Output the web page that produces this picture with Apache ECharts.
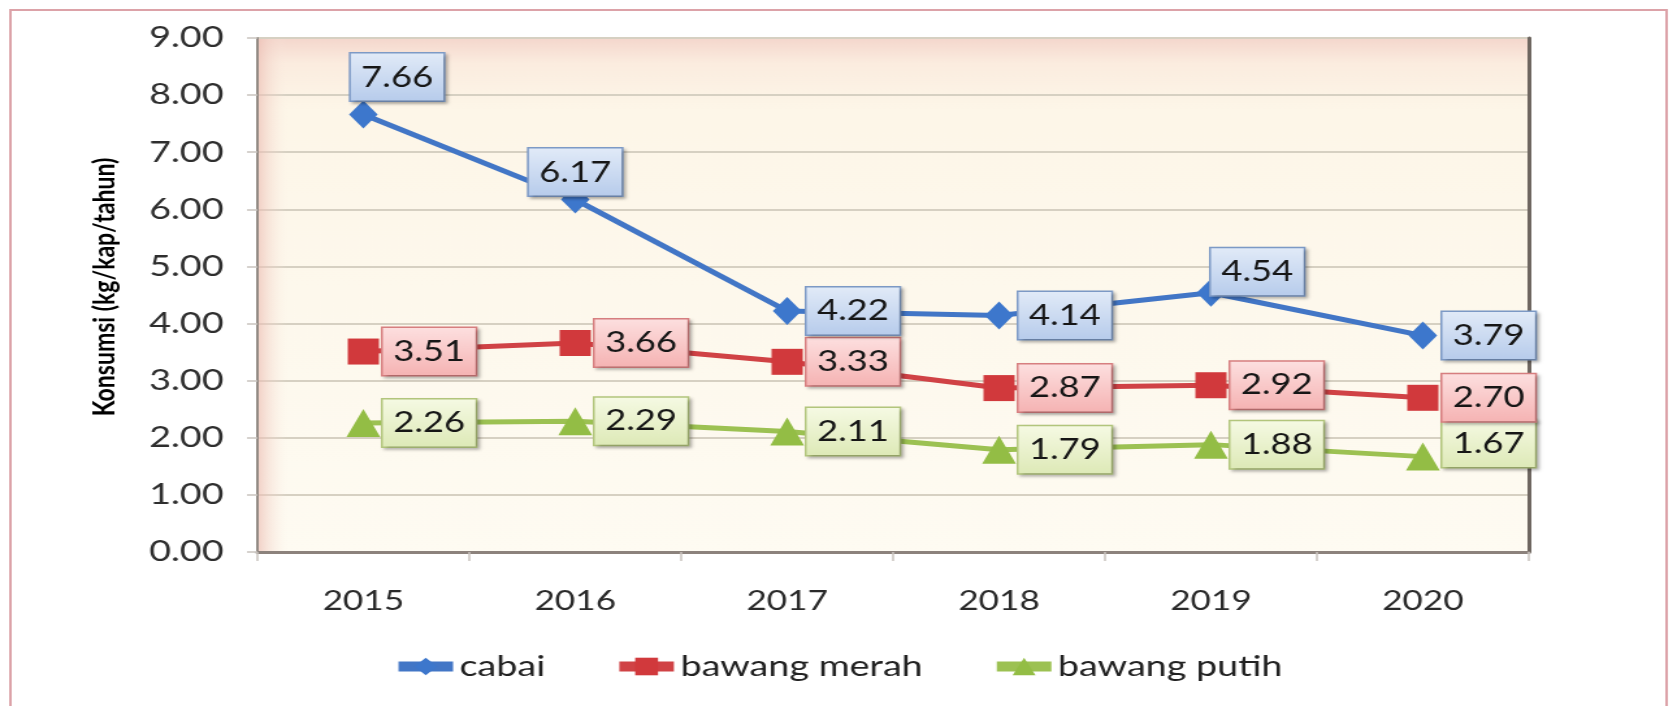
<!DOCTYPE html>
<html><head><meta charset="utf-8">
<script src="https://cdn.jsdelivr.net/npm/echarts@6/dist/echarts.min.js"></script>
<style>
html,body{margin:0;padding:0;background:#fff;overflow:hidden;}
#wrap{width:1674px;height:706px;overflow:hidden;position:relative;background:#fff;}
#chart{width:1288px;height:706px;transform:scaleX(1.3);transform-origin:0 0;}
</style></head><body>
<div id="wrap"><div id="chart"></div></div>
<script>
const years = ['2015', '2016', '2017', '2018', '2019', '2020'];
const cabai = [7.66, 6.17, 4.22, 4.14, 4.54, 3.79];
const bawangMerah = [3.51, 3.66, 3.33, 2.87, 2.92, 2.70];
const bawangPutih = [2.26, 2.29, 2.11, 1.79, 1.88, 1.67];
const seriesNames = ['cabai', 'bawang merah', 'bawang putih'];
const yAxisTitle = 'Konsumsi (kg/kap/tahun)';

// per-point label placement tweaks (kept apart from the data)
const labelTweaks = [
  {0: {position: 'top', distance: 0, offset: [26, 0]}, 1: {position: 'top', distance: -10}, 4: {offset: [-15, -21]}},
  {},
  {5: {offset: [0, -13]}}
];

const chart = echarts.init(document.getElementById('chart'), null, {renderer: 'canvas'});
const G = echarts.graphic;

const GRID = {left: 198, right: 112, top: 38, bottom: 154};
const CW = 1288, CH = 706;

function boxLabel(top, bottom, border, dist) {
  return {
    show: true, position: 'right', distance: dist,
    formatter: p => Number(p.value).toFixed(2),
    fontFamily: 'Lato', fontSize: 28, color: '#161616', lineHeight: 34,
    padding: [7, 8, 6, 8],
    backgroundColor: new G.LinearGradient(0, 0, 0, 1, [{offset: 0, color: top}, {offset: 1, color: bottom}]),
    borderColor: border, borderWidth: 1.5,
    shadowColor: 'rgba(0,0,0,0.25)', shadowBlur: 3, shadowOffsetX: 2, shadowOffsetY: 2
  };
}
function withTweaks(arr, tw) {
  return arr.map((v, i) => tw[i] ? {value: v, label: tw[i]} : v);
}

const option = {
  animation: false,
  backgroundColor: '#fff',
  graphic: [{
    type: 'rect', shape: {x: 8, y: 10, width: 1274, height: 720},
    style: {fill: 'none', stroke: '#dca2a8', lineWidth: 2}, z: -10
  }, {
    // soft pink shading along the left edge of the plot area
    type: 'rect', z: 1, silent: true,
    shape: {x: GRID.left + 1, y: GRID.top + 1, width: 22, height: CH - GRID.top - GRID.bottom - 2},
    style: {fill: new G.LinearGradient(0, 0, 1, 0, [
      {offset: 0, color: 'rgba(236,190,180,0.65)'}, {offset: 1, color: 'rgba(250,235,225,0)'}])}
  }],
  grid: Object.assign({
    show: true,
    backgroundColor: new G.LinearGradient(0, 0, 0, 1, [
      {offset: 0, color: '#f4d6cc'}, {offset: 0.05, color: '#fbecdf'},
      {offset: 0.14, color: '#fdf6e8'}, {offset: 1, color: '#fefbf2'}]),
    borderColor: '#cfd6cc', borderWidth: 1
  }, GRID),
  legend: {
    data: seriesNames, left: 'center', bottom: 20,
    itemWidth: 42, itemHeight: 22, itemGap: 52,
    lineStyle: {width: 10},
    textStyle: {fontFamily: 'Lato', fontSize: 29, color: '#222'}
  },
  xAxis: {
    type: 'category', data: years, boundaryGap: true,
    axisLine: {lineStyle: {color: '#8c827c', width: 3}},
    axisTick: {show: true, length: 9, lineStyle: {color: '#c9c4bf', width: 1.5}},
    axisLabel: {fontFamily: 'Lato', fontSize: 27, color: '#2a2a2a', margin: 36},
    splitLine: {show: false}
  },
  yAxis: [{
    type: 'value', min: 0, max: 9, interval: 1,
    name: yAxisTitle, nameLocation: 'middle', nameGap: 106, nameRotate: 90,
    nameTextStyle: {fontFamily: 'Lato', fontWeight: 'bold', fontSize: 23, color: '#000', padding: [0, 0, 0, 16]},
    axisLine: {show: true, lineStyle: {color: '#928a84', width: 2}},
    axisTick: {show: true, length: 8, lineStyle: {color: '#c9c4bf', width: 1.5}},
    axisLabel: {fontFamily: 'Lato', fontSize: 29, color: '#2e2e2e', margin: 26,
      formatter: v => v.toFixed(2)},
    splitLine: {lineStyle: {color: '#d6d0c2', width: 2}}
  }, {
    type: 'value', min: 0, max: 9, interval: 1, position: 'right',
    axisLine: {show: true, lineStyle: {color: '#6e6660', width: 3}},
    axisTick: {show: false}, axisLabel: {show: false}, splitLine: {show: false}
  }],
  series: [{
    name: seriesNames[0], type: 'line', z: 5,
    data: withTweaks(cabai, labelTweaks[0]),
    symbol: 'diamond', symbolSize: [22, 28],
    lineStyle: {color: '#4276c6', width: 5}, itemStyle: {color: '#3d77cc'},
    label: boxLabel('#e2ebf8', '#b6cbeb', '#7d9ac6', 4)
  }, {
    name: seriesNames[1], type: 'line', z: 4,
    data: withTweaks(bawangMerah, labelTweaks[1]),
    symbol: 'rect', symbolSize: [24, 26],
    lineStyle: {color: '#d04245', width: 5}, itemStyle: {color: '#d1393c'},
    label: boxLabel('#fde0e0', '#f5b2b2', '#d77f80', 3)
  }, {
    name: seriesNames[2], type: 'line', z: 3,
    data: withTweaks(bawangPutih, labelTweaks[2]),
    symbol: 'triangle', symbolSize: [26, 28],
    lineStyle: {color: '#9cc152', width: 5}, itemStyle: {color: '#93bd45'},
    label: boxLabel('#f6fae4', '#dde9b6', '#b3c67d', 2)
  }]
};
chart.setOption(option);
</script>
</body></html>
